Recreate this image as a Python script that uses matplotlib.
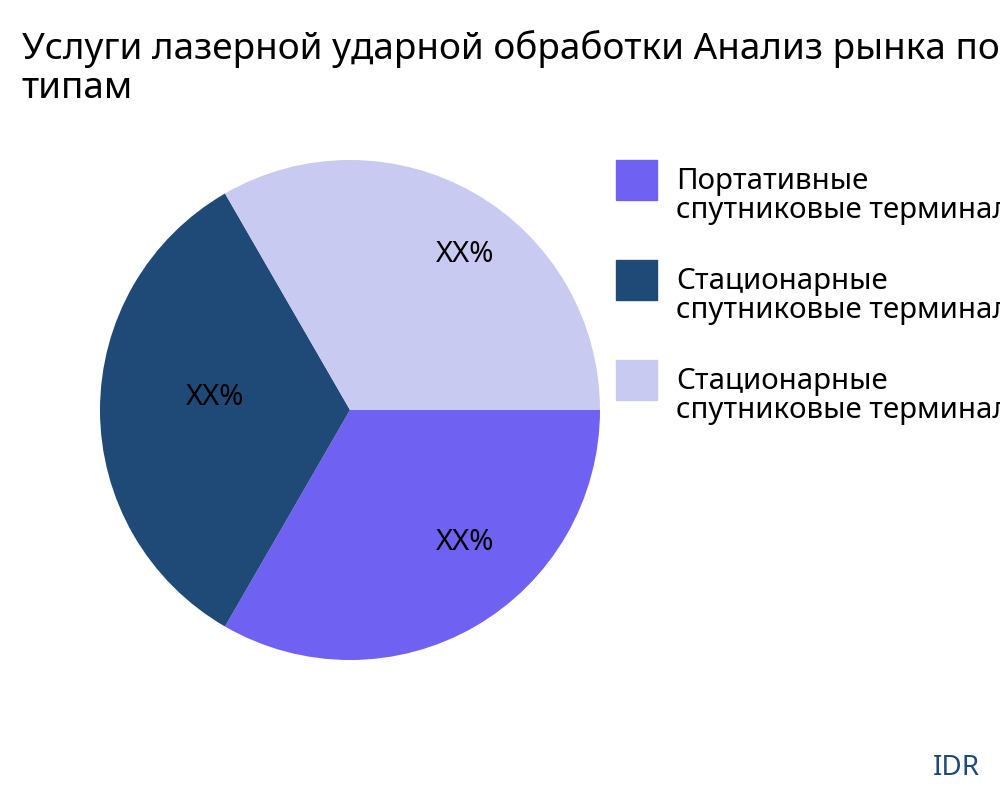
import matplotlib
matplotlib.use("Agg")
import matplotlib.pyplot as plt

plt.rcParams['font.family'] = ['Noto Sans', 'DejaVu Sans']

categories = ["Портативные\nспутниковые терминалы",
              "Стационарные\nспутниковые терминалы",
              "Стационарные\nспутниковые терминалы"]
values = [1, 1, 1]
labels = ["XX%", "XX%", "XX%"]
colors = ["#6f61f2", "#1f4a78", "#c8caf1"]
label_pos = [(0.46, -0.53), (-0.54, 0.05), (0.46, 0.62)]

fig = plt.figure(figsize=(10, 8), dpi=100)
ax = fig.add_axes([0.1, 0.175, 0.5, 0.625])
ax.pie(values, colors=colors, startangle=0, counterclock=False, radius=1)
for (x, y), lab in zip(label_pos, labels):
    ax.text(x, y, lab, ha='center', va='center', fontsize=21, color='black')
ax.set_xlim(-1, 1); ax.set_ylim(-1, 1)
ax.set_aspect('equal')

fig.text(0.022, 0.962, "Услуги лазерной ударной обработки Анализ рынка по\nтипам",
         fontsize=26.6, va='top', ha='left', linespacing=1.1)

y0 = 0.775
for i, (c, lab) in enumerate(zip(colors, categories)):
    y = y0 - i * 0.125
    fig.patches.append(plt.Rectangle((0.616, y - 0.025), 0.041, 0.05,
                                     color=c, transform=fig.transFigure))
    fig.text(0.676, y - 0.02, lab, fontsize=21.2, va='center', ha='left',
             linespacing=1.0)

fig.text(0.98, 0.04, "IDR", fontsize=20, color="#1f4a78", ha='right', va='center')
fig.savefig("out.png")
